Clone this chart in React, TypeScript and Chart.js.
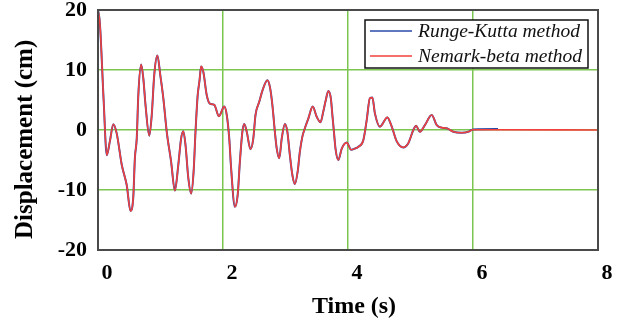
import React, { useEffect, useRef } from "react";
import { Chart, registerables } from "chart.js";

Chart.register(...registerables);

// Time (s)
const timeS = [
  0, 0.03, 0.09, 0.14, 0.19, 0.245, 0.3, 0.38, 0.46, 0.52, 0.565, 0.59, 0.62, 0.645, 0.69, 0.725, 0.76,
  0.82, 0.86, 0.9, 0.95, 1.0, 1.045, 1.1, 1.17, 1.23, 1.285, 1.33, 1.365, 1.4, 1.445, 1.49, 1.53, 1.56,
  1.595, 1.625, 1.65, 1.685, 1.74, 1.79, 1.86, 1.935, 2.02, 2.06, 2.1, 2.13, 2.19, 2.235, 2.27, 2.31,
  2.34, 2.38, 2.44, 2.485, 2.52, 2.58, 2.635, 2.71, 2.75, 2.79, 2.83, 2.86, 2.9, 2.94, 2.99, 3.03, 3.07,
  3.11, 3.15, 3.195, 3.23, 3.27, 3.31, 3.365, 3.435, 3.5, 3.56, 3.605, 3.645, 3.685, 3.725, 3.75, 3.775,
  3.8, 3.845, 3.9, 3.98, 4.05, 4.11, 4.165, 4.245, 4.3, 4.35, 4.39, 4.43, 4.51, 4.63, 4.7, 4.78, 4.885,
  4.965, 5.045, 5.09, 5.15, 5.23, 5.34, 5.42, 5.5, 5.58, 5.685, 5.82, 5.925, 6.0,
];

// Displacement (cm) — Runge-Kutta method
const rungeKutta = [
  20, 17.8, 5, -4.2, -1.9, 0.95, -0.6, -5.8, -9.2, -13.5, -11.1, -4.7, -1.4, 5.8, 10.9, 8.6, 4.2,
  -0.95, 2.5, 9.2, 12.4, 8.9, 5.3, -0.3, -5.3, -10.1, -5.8, -1.4, -0.2, -2.5, -8, -10.6, -6.9, -0.3,
  5.8, 8.3, 10.6, 9.7, 5.8, 4.4, 4.2, 2.3, 3.9, 2.5, -1.4, -6.4, -12.8, -10.8, -5.3, -0.3,
  1.0, -0.3, -3.2, -1.4, 2.5, 4.7, 6.7, 8.3, 7.2, 4.2, -0.3, -3.1, -4.7, -1.4, 1.0, -0.3, -4.2,
  -7.5, -9.0, -6.9, -3.6, -1.1, 0.3, 1.9, 3.9, 2.2, 1.3, 3.1, 5, 6.5, 5.3, 2.5, -0.3,
  -3.1, -5, -3.1, -2.1, -3.3, -3.1, -2.8, -1.7, 1.7, 5.3, 5.4, 2.8, 0.55, 2.1, 0.55, -1.9, -2.9,
  -2.2, 0, 0.7, -0.3, 0.8, 2.5, 0.8, 0.4, 0.3, -0.3, -0.45, -0.3, 0.1,
];
const rkTailTime = [6.4];
const rkTail = [0.15];

// Displacement (cm) — Nemark-beta method
const nemarkBeta = [
  20, 17.8, 5, -4.2, -1.9, 0.95, -0.6, -5.8, -9.2, -13.5, -11.1, -4.7, -1.4, 5.8, 10.9, 8.6, 4.2,
  -0.95, 2.5, 9.2, 12.4, 8.9, 5.3, -0.3, -5.3, -10.1, -5.8, -1.4, -0.2, -2.5, -8, -10.6, -6.9, -0.3,
  5.8, 8.3, 10.6, 9.7, 5.8, 4.4, 4.2, 2.3, 3.9, 2.5, -1.4, -6.4, -12.8, -10.8, -5.3, -0.3,
  1.0, -0.3, -3.2, -1.4, 2.5, 4.7, 6.7, 8.3, 7.2, 4.2, -0.3, -3.1, -4.7, -1.4, 1.0, -0.3, -4.2,
  -7.5, -9.0, -6.9, -3.6, -1.1, 0.3, 1.9, 3.9, 2.2, 1.3, 3.1, 5, 6.5, 5.3, 2.5, -0.3,
  -3.1, -5, -3.1, -2.1, -3.3, -3.1, -2.8, -1.7, 1.7, 5.3, 5.4, 2.8, 0.55, 2.1, 0.55, -1.9, -2.9,
  -2.2, 0, 0.7, -0.3, 0.8, 2.5, 0.8, 0.4, 0.3, -0.3, -0.45, -0.3, 0.05,
];
const nbTailTime = [8];
const nbTail = [0];

const seriesNames = ["Runge-Kutta method", "Nemark-beta method"];
const seriesColors = ["#2a4aa8", "#f2403c"];
const xTickValues = [0, 2, 4, 6, 8];
const yTickValues = [-20, -10, 0, 10, 20];

const GRID = "#7ac651";
const FRAME = "#4a4a4a";
const SERIF = "'Liberation Serif', 'Times New Roman', serif";

const toPoints = (ts: number[], vs: number[]) => ts.map((t, i) => ({ x: t, y: vs[i] }));

const framePlugin = {
  id: "frameAndLegend",
  afterDatasetsDraw(chart: any) {
    const { ctx, chartArea } = chart;
    const { left, right, top, bottom } = chartArea;
    ctx.save();
    ctx.strokeStyle = FRAME;
    ctx.lineWidth = 2;
    ctx.strokeRect(left, top, right - left, bottom - top);

    // legend box
    const bw = 223;
    const bh = 48;
    const bx = right - 10 - bw;
    const by = top + 10;
    ctx.fillStyle = "#ffffff";
    ctx.fillRect(bx, by, bw, bh);
    ctx.strokeStyle = "#111111";
    ctx.lineWidth = 1.5;
    ctx.strokeRect(bx, by, bw, bh);
    ctx.font = `italic 19.5px ${SERIF}`;
    ctx.textBaseline = "middle";
    ctx.textAlign = "left";
    seriesNames.forEach((name, i) => {
      const y = by + 11 + i * 25;
      ctx.strokeStyle = seriesColors[i];
      ctx.lineWidth = 1.5;
      ctx.beginPath();
      ctx.moveTo(bx + 5, y);
      ctx.lineTo(bx + 47, y);
      ctx.stroke();
      ctx.fillStyle = "#111111";
      ctx.fillText(name, bx + 53, y + 1);
    });
    ctx.restore();
  },
};

export default function App() {
  const ref = useRef<HTMLCanvasElement | null>(null);

  useEffect(() => {
    if (!ref.current) return;
    const chart = new Chart(ref.current, {
      type: "line",
      data: {
        datasets: [
          {
            label: seriesNames[0],
            data: [...toPoints(timeS, rungeKutta), ...toPoints(rkTailTime, rkTail)],
            borderColor: seriesColors[0],
            borderWidth: 2,
            pointRadius: 0,
            cubicInterpolationMode: "monotone",
            order: 1,
          },
          {
            label: seriesNames[1],
            data: [...toPoints(timeS, nemarkBeta), ...toPoints(nbTailTime, nbTail)],
            borderColor: seriesColors[1],
            borderWidth: 1.6,
            pointRadius: 0,
            cubicInterpolationMode: "monotone",
            order: 0,
          },
        ],
      },
      options: {
        animation: false,
        responsive: false,
        maintainAspectRatio: false,
        layout: { padding: { top: 10, right: 19, left: 0, bottom: 0 } },
        plugins: { legend: { display: false }, tooltip: { enabled: false } },
        scales: {
          x: {
            type: "linear",
            min: 0,
            max: 8,
            afterFit: (s: any) => {
              s.height = 73;
              s.paddingLeft = 0;
              s.paddingRight = 0;
            },
            afterBuildTicks: (s: any) => {
              s.ticks = xTickValues.map((v) => ({ value: v }));
            },
            border: { display: false },
            grid: {
              drawTicks: false,
              lineWidth: 1.5,
              color: (c: any) => (c.tick && (c.tick.value === 0 || c.tick.value === 8) ? "rgba(0,0,0,0)" : GRID),
            },
            ticks: {
              padding: 10,
              labelOffset: 9,
              color: "#000",
              font: { family: SERIF, size: 22, weight: "bold" },
              maxRotation: 0,
            },
            title: {
              display: true,
              text: "  Time (s)",
              color: "#000",
              font: { family: SERIF, size: 24, weight: "bold" },
              padding: { top: 0, bottom: 2 },
            },
          },
          y: {
            type: "linear",
            min: -20,
            max: 20,
            afterFit: (s: any) => {
              s.width = 98;
              s.paddingTop = 0;
              s.paddingBottom = 0;
            },
            afterBuildTicks: (s: any) => {
              s.ticks = yTickValues.map((v) => ({ value: v }));
            },
            border: { display: false },
            grid: {
              drawTicks: false,
              lineWidth: 1.5,
              color: (c: any) => (c.tick && (c.tick.value === -20 || c.tick.value === 20) ? "rgba(0,0,0,0)" : GRID),
            },
            ticks: {
              padding: 11,
              color: "#000",
              font: { family: SERIF, size: 22, weight: "bold" },
            },
            title: {
              display: true,
              text: "Displacement (cm)   ",
              color: "#000",
              font: { family: SERIF, size: 25, weight: "bold" },
              padding: { top: 11, bottom: 0 },
            },
          },
        },
      },
      plugins: [framePlugin],
    });
    return () => chart.destroy();
  }, []);

  return (
    <div style={{ position: "fixed", left: 0, top: 0, width: 617, height: 323, background: "#fff" }}>
      <canvas ref={ref} width={617} height={323} style={{ display: "block", width: 617, height: 323 }} />
    </div>
  );
}
